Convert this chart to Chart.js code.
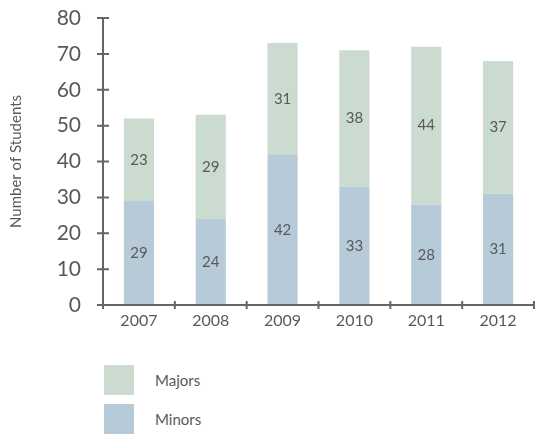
<!DOCTYPE html>
<html>
<head>
<meta charset="utf-8">
<script src="https://cdn.jsdelivr.net/npm/chart.js@4"></script>
<style>
body { margin: 0; background: #fff; font-family: Lato, sans-serif; }
#wrap { position: relative; width: 535px; height: 350px; }
.legend { position: absolute; left: 104px; font-size: 15px; color: #595959; }
.legend div { height: 30px; display: flex; align-items: center; margin-bottom: 9px; }
.legend span.box { display: inline-block; width: 30px; height: 30px; margin-right: 21px; }
</style>
</head>
<body>
<div id="wrap"><canvas id="chart"></canvas></div>
<div class="legend" style="top:365px">
  <div><span class="box" style="background:#ccdbcf"></span>Majors</div>
  <div><span class="box" style="background:#b7cad8"></span>Minors</div>
</div>
<script>
const years = ["2007", "2008", "2009", "2010", "2011", "2012"];
const minors = [29, 24, 42, 33, 28, 31];
const majors = [23, 29, 31, 38, 44, 37];
const yTicks = [0, 10, 20, 30, 40, 50, 60, 70, 80];

const axisColor = "#666666";
const textColor = "#595959";

// ticks that cross the axis lines, like the original
const crossTicks = {
    id: "crossTicks",
    afterDraw(chart) {
        const ctx = chart.ctx;
        const x = chart.scales.x, y = chart.scales.y;
        ctx.save();
        ctx.strokeStyle = axisColor;
        ctx.lineWidth = 2;
        ctx.beginPath();
        ctx.moveTo(y.right, chart.chartArea.top);
        ctx.lineTo(y.right, x.top);
        ctx.lineTo(chart.chartArea.right, x.top);
        y.ticks.forEach((t, i) => {
            const py = y.getPixelForTick(i);
            ctx.moveTo(y.right - 6, py);
            ctx.lineTo(y.right + 6, py);
        });
        for (let i = 0; i <= years.length; i++) {
            const px = x.getPixelForValue(i - 0.5);
            ctx.moveTo(px, x.top - 4);
            ctx.lineTo(px, x.top + 4);
        }
        ctx.stroke();
        ctx.restore();
    }
};

const barLabels = {
    id: "barLabels",
    afterDatasetsDraw(chart) {
        const ctx = chart.ctx;
        ctx.save();
        ctx.fillStyle = textColor;
        ctx.font = "15px Lato, sans-serif";
        ctx.textAlign = "center";
        ctx.textBaseline = "middle";
        chart.data.datasets.forEach((ds, di) => {
            chart.getDatasetMeta(di).data.forEach((bar, i) => {
                ctx.fillText(ds.data[i], bar.x, (bar.y + bar.base) / 2);
            });
        });
        ctx.restore();
    }
};

new Chart(document.getElementById("chart"), {
    type: "bar",
    data: {
        labels: years,
        datasets: [
            { label: "Minors", data: minors, backgroundColor: "#b7cad8", barPercentage: 0.42, categoryPercentage: 1 },
            { label: "Majors", data: majors, backgroundColor: "#ccdbcf", barPercentage: 0.42, categoryPercentage: 1 }
        ]
    },
    options: {
        responsive: true,
        maintainAspectRatio: false,
        animation: false,
        layout: { padding: { top: 18, right: 1, left: 0, bottom: 0 } },
        plugins: { legend: { display: false }, tooltip: { enabled: false } },
        scales: {
            x: {
                stacked: true,
                grid: { display: false, tickLength: 3 },
                border: { display: false },
                ticks: { color: textColor, font: { size: 16, family: "Lato" }, padding: 3, maxRotation: 0 },
                afterFit: s => { s.height = 45; }
            },
            y: {
                stacked: true,
                min: 0,
                max: 80,
                afterBuildTicks: s => { s.ticks = yTicks.map(v => ({ value: v })); },
                grid: { display: false, tickLength: 20 },
                border: { display: false },
                ticks: { color: textColor, font: { size: 21, family: "Lato" }, padding: 2 },
                title: { display: true, text: "Number of Students", color: textColor, font: { size: 15, family: "Lato" }, padding: { top: 7, bottom: 10 } },
                afterFit: s => { s.width = 103; }
            }
        }
    },
    plugins: [crossTicks, barLabels]
});
</script>
</body>
</html>
